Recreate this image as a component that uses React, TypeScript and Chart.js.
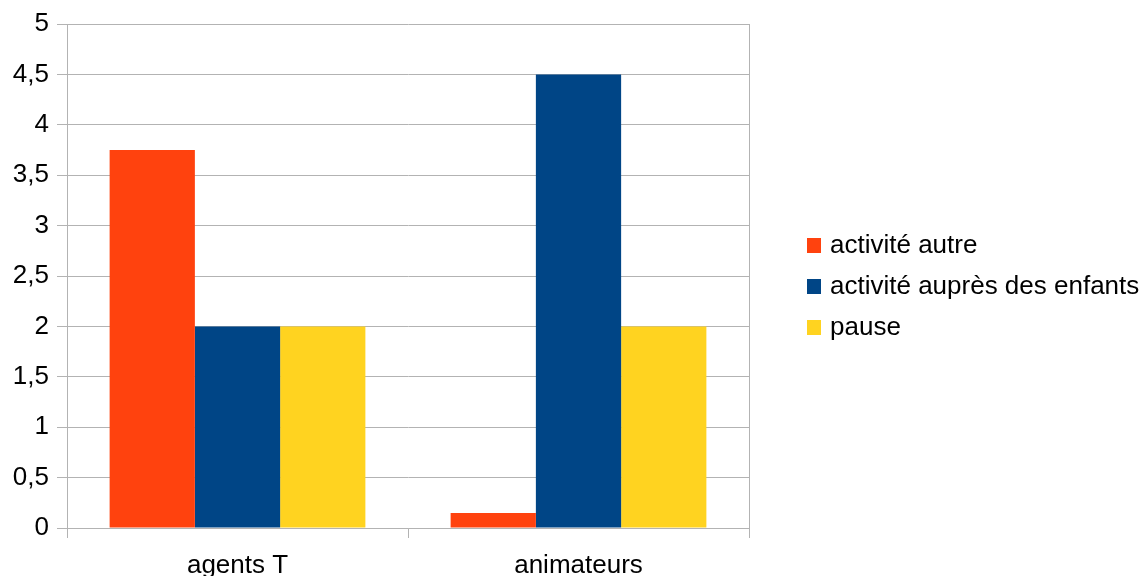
import React, { useEffect, useRef } from "react";
import { Chart, registerables } from "chart.js";

Chart.register(...registerables);

const categories = ["agents T", "animateurs"];
const seriesNames = ["activité autre", "activité auprès des enfants", "pause"];
const activiteAutre = [3.75, 0.15];
const activiteEnfants = [2, 4.5];
const pause = [2, 2];
const seriesColors = ["#ff420e", "#004586", "#ffd320"];

const FONT = "'Liberation Sans', Arial, sans-serif";
const GRID = "#b3b3b3";

export default function App() {
  const ref = useRef<HTMLCanvasElement | null>(null);

  useEffect(() => {
    if (!ref.current) return;
    const swatches = seriesColors.map((c) => {
      const cv = document.createElement("canvas");
      cv.width = 14;
      cv.height = 15;
      const g = cv.getContext("2d")!;
      g.fillStyle = c;
      g.fillRect(0, 0, 14, 15);
      return cv;
    });

    const legendPos = {
      id: "legendPos",
      beforeInit(chart: any) {
        const lg = chart.legend;
        const orig = lg.fit;
        lg.fit = function () {
          orig.call(this);
          this.width = 390;
        };
      },
      afterLayout(chart: any) {
        const lg = chart.legend;
        lg.left = 796;
        lg.right = 1139;
        lg.top = 217.5;
        lg.bottom = 576;
      },
    };

    const values = [activiteAutre, activiteEnfants, pause];
    const chart = new Chart(ref.current, {
      type: "bar",
      data: {
        labels: categories,
        datasets: seriesNames.map((name, i) => ({
          label: name,
          data: values[i],
          backgroundColor: seriesColors[i],
          borderWidth: 0,
          categoryPercentage: 0.75,
          barPercentage: 1.0,
        })),
      },
      options: {
        responsive: false,
        animation: false,
        layout: { padding: { top: 24, left: 0, right: 0, bottom: 0 } },
        plugins: {
          tooltip: { enabled: false },
          legend: {
            position: "right",
            align: "start",
            labels: {
              usePointStyle: true,
              boxWidth: 6,
              boxHeight: 15,
              padding: 15,
              color: "#000",
              font: { family: FONT, size: 26 },
              generateLabels: (ch: any) =>
                ch.data.datasets.map((ds: any, i: number) => ({
                  text: ds.label,
                  fillStyle: ds.backgroundColor,
                  strokeStyle: ds.backgroundColor,
                  lineWidth: 0,
                  pointStyle: swatches[i],
                  hidden: false,
                  datasetIndex: i,
                  fontColor: "#000",
                })),
            },
          },
        },
        scales: {
          x: {
            offset: true,
            grid: {
              offset: true,
              color: (ctx: any) => (ctx.index === 1 ? "rgba(0,0,0,0)" : GRID),
              tickColor: GRID,
              tickLength: 10,
              drawOnChartArea: true,
            },
            border: { color: GRID },
            ticks: {
              color: "#000",
              padding: 12,
              font: { family: FONT, size: 26 },
            },
            afterFit: (s: any) => {
              s.height = 48;
            },
          },
          y: {
            min: 0,
            max: 5,
            grid: { color: GRID, tickColor: GRID, tickLength: 10 },
            border: { color: GRID },
            ticks: {
              stepSize: 0.5,
              color: "#000",
              padding: 8,
              font: { family: FONT, size: 26 },
              callback: (v: any) => String(v).replace(".", ","),
            },
            afterFit: (s: any) => {
              s.width = 67;
            },
          },
        },
      },
      plugins: [legendPos],
    });
    return () => chart.destroy();
  }, []);

  return (
    <div style={{ position: "absolute", left: 0, top: 0, width: 1139, height: 576, background: "#fff" }}>
      <canvas ref={ref} width={1139} height={576} />
    </div>
  );
}
